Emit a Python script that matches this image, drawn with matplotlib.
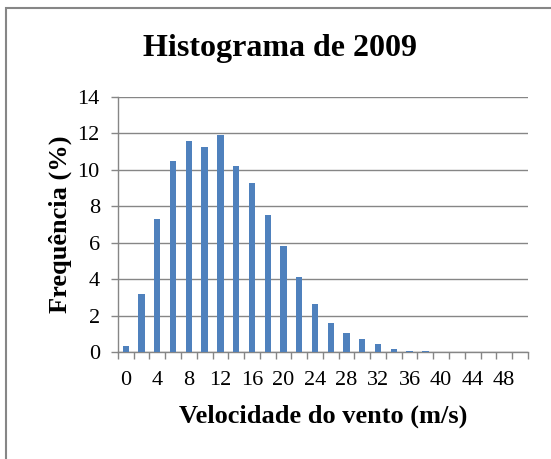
import matplotlib
matplotlib.use("Agg")
import matplotlib.pyplot as plt
from matplotlib.patches import Rectangle
import numpy as np

# velocidade do vento (m/s), classes de 2 em 2
velocidades = [0, 2, 4, 6, 8, 10, 12, 14, 16, 18, 20, 22, 24,
               26, 28, 30, 32, 34, 36, 38, 40, 42, 44, 46, 48, 50]
frequencia = [0.35, 3.2, 7.3, 10.5, 11.6, 11.25, 11.9, 10.2, 9.25, 7.5, 5.8, 4.1, 2.65,
              1.6, 1.05, 0.72, 0.42, 0.18, 0.08, 0.08, 0.03, 0.01, 0.0, 0.0, 0.0, 0.0]
yticks = [0, 2, 4, 6, 8, 10, 12, 14]

plt.rcParams['font.family'] = ['Liberation Serif', 'DejaVu Serif']
cinza = '#868686'

fig = plt.figure(figsize=(5.51, 4.59), dpi=100)
ax = fig.add_axes([0.214, 0.233, 0.744, 0.556])

x = np.arange(len(velocidades))
ax.bar(x, frequencia, width=0.4, color='#4F81BD', zorder=3)

ax.set_xlim(-0.5, len(velocidades) - 0.5)
ax.set_ylim(0, 14)
ax.set_yticks(yticks)
ax.grid(axis='y', color=cinza, linewidth=1, zorder=0)

# ticks entre as categorias, rotulos a cada duas classes
ax.set_xticks(np.arange(-0.5, len(velocidades)), minor=False)
ax.set_xticklabels([])
ax.set_xticks(x[::2], minor=True)
ax.set_xticklabels([str(v) for v in velocidades[::2]], minor=True)
ax.tick_params(axis='x', which='major', length=5, color=cinza, width=1)
ax.tick_params(axis='x', which='minor', length=0, labelsize=16, pad=14)
ax.tick_params(axis='y', length=5, color=cinza, width=1, labelsize=16, pad=8)

for s in ['top', 'right']:
    ax.spines[s].set_visible(False)
for s in ['left', 'bottom']:
    ax.spines[s].set_color(cinza)
    ax.spines[s].set_linewidth(1)

ax.set_xlabel('Velocidade do vento (m/s)', fontsize=19, fontweight='bold', labelpad=10)
ax.set_ylabel('Frequência (%)', fontsize=19, fontweight='bold', labelpad=4)
fig.text(0.508, 0.895, 'Histograma de 2009', ha='center', va='center',
         fontsize=23, fontweight='bold')

# moldura do grafico
fig.patches.append(Rectangle((6 / 551, -0.1), 1.1, 1 - 8 / 459 + 0.1,
                             transform=fig.transFigure, fill=False,
                             edgecolor=cinza, linewidth=1.5))

fig.savefig('out.png', dpi=100)
